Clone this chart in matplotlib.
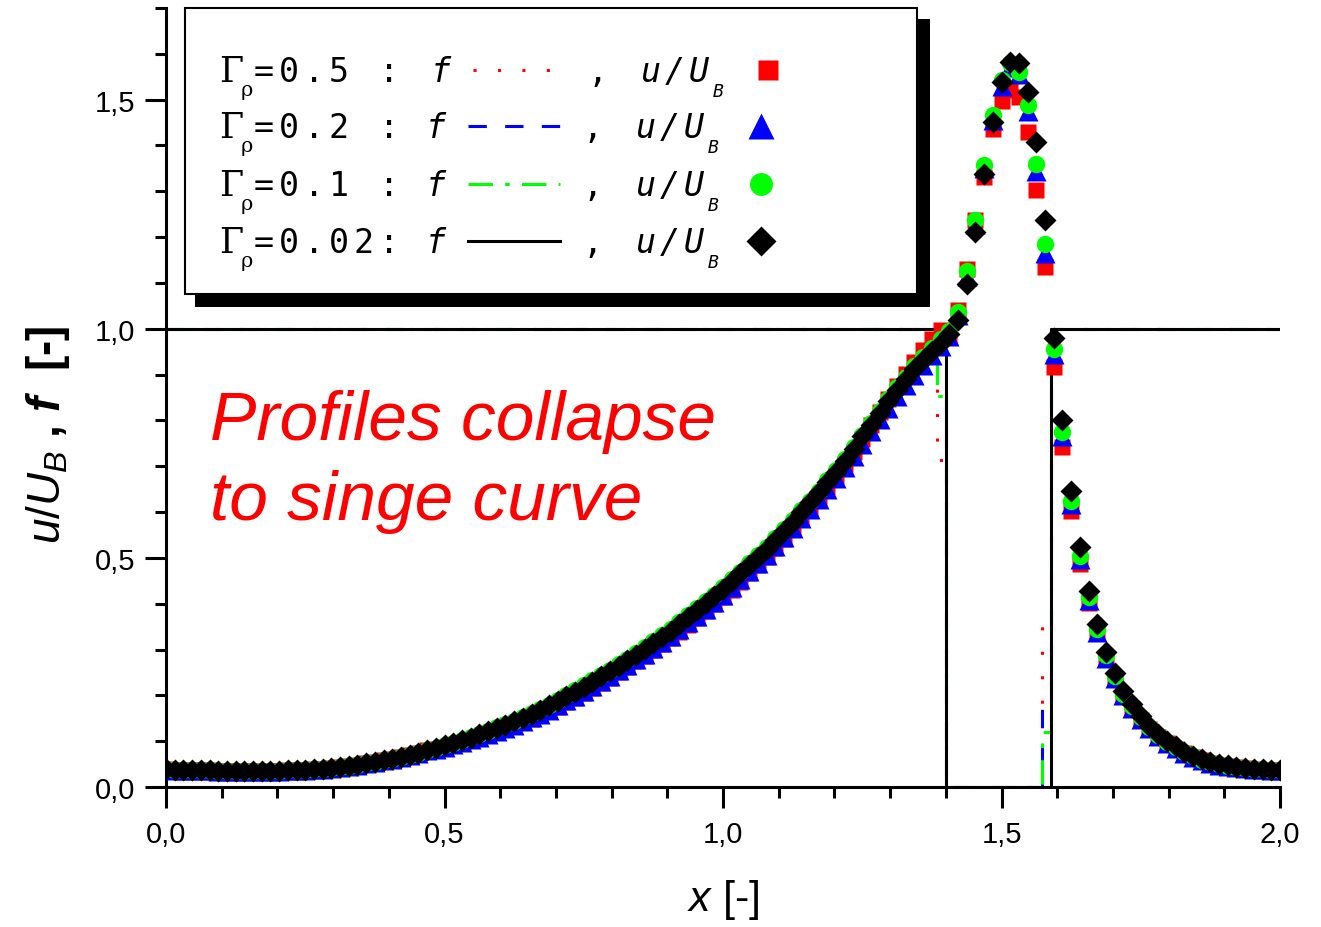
import matplotlib.pyplot as plt
import numpy as np
from matplotlib.lines import Line2D
from matplotlib.patches import Rectangle
from matplotlib.ticker import MultipleLocator, FuncFormatter

plt.rcParams['font.family'] = ['Liberation Sans', 'DejaVu Sans']
plt.rcParams['mathtext.fontset'] = 'custom'
plt.rcParams['mathtext.rm'] = 'Liberation Sans'
plt.rcParams['mathtext.it'] = 'Liberation Sans:italic'
plt.rcParams['mathtext.bf'] = 'Liberation Sans:bold'
plt.rcParams['mathtext.bfit'] = 'Liberation Sans:italic:bold'

# grid of 129 nodes on [0, 2]
x = np.linspace(0, 2, 129)

# u/U_B for the four density ratios
u_05 = [0.039, 0.038, 0.038, 0.037, 0.037, 0.037, 0.036, 0.036, 0.036, 0.036,
        0.036, 0.036, 0.036, 0.036, 0.037, 0.037, 0.038, 0.039, 0.040, 0.042,
        0.044, 0.046, 0.049, 0.052, 0.055, 0.059, 0.062, 0.066, 0.070, 0.075,
        0.080, 0.082, 0.087, 0.092, 0.097, 0.102, 0.108, 0.114, 0.120, 0.127,
        0.134, 0.141, 0.149, 0.157, 0.166, 0.175, 0.185, 0.195, 0.205, 0.216,
        0.227, 0.238, 0.250, 0.262, 0.274, 0.286, 0.299, 0.312, 0.325, 0.339,
        0.354, 0.369, 0.384, 0.399, 0.415, 0.431, 0.448, 0.466, 0.484, 0.503,
        0.522, 0.542, 0.563, 0.585, 0.607, 0.630, 0.654, 0.679, 0.705, 0.732,
        0.760, 0.789, 0.818, 0.847, 0.875, 0.902, 0.928, 0.953, 0.978, 0.998,
        0.985, 1.040, 1.131, 1.237, 1.331, 1.435, 1.498, 1.520, 1.506, 1.429,
        1.302, 1.135, 0.916, 0.742, 0.602, 0.487, 0.402, 0.335, 0.280, 0.236,
        0.199, 0.171, 0.147, 0.127, 0.110, 0.096, 0.084, 0.074, 0.065, 0.058,
        0.052, 0.048, 0.045, 0.043, 0.041, 0.039, 0.038, 0.038, 0.037]
u_02 = [0.039, 0.038, 0.038, 0.037, 0.037, 0.037, 0.036, 0.036, 0.036, 0.036,
        0.036, 0.036, 0.036, 0.036, 0.037, 0.037, 0.038, 0.039, 0.040, 0.042,
        0.044, 0.046, 0.049, 0.052, 0.055, 0.059, 0.062, 0.066, 0.070, 0.075,
        0.080, 0.083, 0.088, 0.093, 0.098, 0.104, 0.110, 0.116, 0.122, 0.129,
        0.136, 0.144, 0.152, 0.160, 0.169, 0.179, 0.189, 0.199, 0.209, 0.220,
        0.231, 0.243, 0.255, 0.267, 0.279, 0.291, 0.304, 0.317, 0.330, 0.344,
        0.359, 0.374, 0.389, 0.404, 0.420, 0.436, 0.453, 0.471, 0.489, 0.507,
        0.526, 0.545, 0.565, 0.586, 0.607, 0.629, 0.651, 0.674, 0.698, 0.723,
        0.749, 0.776, 0.802, 0.828, 0.853, 0.877, 0.900, 0.922, 0.943, 0.962,
        0.985, 1.030, 1.115, 1.228, 1.350, 1.455, 1.530, 1.572, 1.555, 1.476,
        1.345, 1.166, 0.945, 0.765, 0.617, 0.498, 0.408, 0.338, 0.282, 0.238,
        0.200, 0.172, 0.149, 0.128, 0.111, 0.097, 0.085, 0.075, 0.066, 0.059,
        0.053, 0.049, 0.046, 0.043, 0.041, 0.040, 0.039, 0.038, 0.038]
u_01 = [0.039, 0.038, 0.038, 0.037, 0.037, 0.037, 0.036, 0.036, 0.036, 0.036,
        0.036, 0.036, 0.036, 0.036, 0.037, 0.037, 0.038, 0.039, 0.040, 0.042,
        0.044, 0.046, 0.049, 0.052, 0.055, 0.059, 0.062, 0.066, 0.070, 0.075,
        0.080, 0.086, 0.092, 0.097, 0.103, 0.109, 0.116, 0.123, 0.130, 0.137,
        0.145, 0.153, 0.161, 0.170, 0.180, 0.190, 0.200, 0.211, 0.222, 0.233,
        0.245, 0.256, 0.268, 0.280, 0.292, 0.305, 0.318, 0.331, 0.345, 0.360,
        0.375, 0.390, 0.405, 0.420, 0.436, 0.453, 0.470, 0.488, 0.506, 0.524,
        0.543, 0.563, 0.583, 0.604, 0.625, 0.647, 0.669, 0.692, 0.716, 0.742,
        0.769, 0.795, 0.821, 0.847, 0.872, 0.895, 0.918, 0.939, 0.959, 0.977,
        0.995, 1.036, 1.125, 1.237, 1.357, 1.466, 1.542, 1.580, 1.560, 1.488,
        1.360, 1.186, 0.956, 0.774, 0.625, 0.505, 0.414, 0.344, 0.287, 0.242,
        0.204, 0.176, 0.152, 0.131, 0.113, 0.099, 0.087, 0.076, 0.067, 0.060,
        0.054, 0.050, 0.046, 0.044, 0.042, 0.040, 0.039, 0.038, 0.038]
u_002 = [0.039, 0.038, 0.038, 0.037, 0.037, 0.037, 0.036, 0.036, 0.036, 0.036,
         0.036, 0.036, 0.036, 0.036, 0.037, 0.037, 0.038, 0.039, 0.040, 0.042,
         0.044, 0.046, 0.049, 0.052, 0.055, 0.059, 0.062, 0.066, 0.070, 0.075,
         0.080, 0.085, 0.091, 0.096, 0.102, 0.108, 0.115, 0.122, 0.128, 0.135,
         0.143, 0.151, 0.159, 0.168, 0.178, 0.188, 0.198, 0.208, 0.219, 0.230,
         0.242, 0.253, 0.265, 0.277, 0.289, 0.302, 0.315, 0.328, 0.341, 0.356,
         0.371, 0.386, 0.401, 0.416, 0.432, 0.449, 0.466, 0.484, 0.502, 0.520,
         0.539, 0.559, 0.579, 0.600, 0.621, 0.643, 0.665, 0.688, 0.712, 0.738,
         0.765, 0.791, 0.817, 0.843, 0.867, 0.890, 0.912, 0.932, 0.951, 0.969,
         0.988, 1.020, 1.098, 1.212, 1.338, 1.451, 1.539, 1.582, 1.579, 1.517,
         1.408, 1.237, 0.980, 0.800, 0.647, 0.523, 0.428, 0.355, 0.295, 0.249,
         0.210, 0.181, 0.156, 0.134, 0.116, 0.101, 0.089, 0.077, 0.068, 0.061,
         0.055, 0.050, 0.047, 0.044, 0.042, 0.040, 0.039, 0.038, 0.038]

# step profiles of f
f_x = [0.0, 1.384, 1.384, 1.401, 1.401, 1.572, 1.572, 1.588, 1.588, 2.0]
f_05 = [1, 1, 0.714, 0.714, 0, 0, 0.363, 0.363, 1, 1]
f_02 = [1, 1, 0.870, 0.870, 0, 0, 0.177, 0.177, 1, 1]
f_01 = [1, 1, 0.854, 0.854, 0, 0, 0.120, 0.120, 1, 1]
f_002 = [1, 1, 0.952, 0.952, 0, 0, 0, 0, 1, 1]

gammas = ['=0.5 :', '=0.2 :', '=0.1 :', '=0.02:']
colors = ['#ff0000', '#0000ff', '#00ff00', '#000000']
styles = [(0, (1, 7)), (0, (6, 6)), (0, (8, 4, 1.5, 4)), '-']
markers = ['s', '^', 'o', 'D']

W, H = 1321, 928
fig = plt.figure(figsize=(W / 100, H / 100), dpi=100)
ax = fig.add_axes([166 / W, 1 - 788 / H, 1114 / W, 779 / H])

for fy, c, ls in zip([f_05, f_02, f_01, f_002], colors, styles):
    ax.plot(f_x, fy, color=c, lw=2.2, ls=ls, zorder=2)

msizes = [11.5, 14, 12.5, 11]
for k, (uy, c, m, ms) in enumerate(zip([u_05, u_02, u_01, u_002], colors, markers, msizes)):
    ax.plot(x, uy, m, color=c, ms=ms, mec='none', zorder=3 + k)

ax.set_xlim(0, 2)
ax.set_ylim(0, 1.7)
ax.spines['top'].set_visible(False)
ax.spines['right'].set_visible(False)
ax.spines['left'].set_linewidth(2.2)
ax.spines['bottom'].set_linewidth(2.2)
ax.xaxis.set_major_locator(MultipleLocator(0.5))
ax.xaxis.set_minor_locator(MultipleLocator(0.1))
ax.yaxis.set_major_locator(MultipleLocator(0.5))
ax.yaxis.set_minor_locator(MultipleLocator(0.1))
comma = FuncFormatter(lambda v, p: f'{v:.1f}'.replace('.', ','))
ax.xaxis.set_major_formatter(comma)
ax.yaxis.set_major_formatter(comma)
ax.tick_params(which='major', direction='out', length=15, width=2.2, labelsize=21)
ax.tick_params(which='minor', direction='out', length=8, width=2.2)
ax.tick_params(axis='x', pad=9)
ax.tick_params(axis='y', pad=7)

# plain-text "[-]" so the hyphen stays short; weight applies to non-math parts
ax.set_ylabel(r'$u/U_B$ , $\mathbfit{f}$  [-]', fontsize=33, fontweight='bold')
ax.yaxis.set_label_coords(-0.084, 0.453)
ax.set_xlabel(r'$x$ [-]', fontsize=31)
ax.xaxis.set_label_coords(0.5, -0.115)


def fx(px):
    return px / W


def fy(py):
    return 1 - py / H


fig.text(fx(210), fy(440), 'Profiles collapse', color='red', style='italic',
         fontsize=50, va='baseline')
fig.text(fx(210), fy(520), 'to singe curve', color='red', style='italic',
         fontsize=50, va='baseline')

# legend box with drop shadow
fig.add_artist(Rectangle((fx(195), fy(308)), (930 - 195) / W, (308 - 20) / H,
                         transform=fig.transFigure, facecolor='black',
                         edgecolor='none', zorder=1))
fig.add_artist(Rectangle((fx(185), fy(295)), (917 - 185) / W, (295 - 9) / H,
                         transform=fig.transFigure, facecolor='white',
                         edgecolor='black', lw=1.5, zorder=1))

mono = 'DejaVu Sans Mono'
leg_ms = [15, 19, 16.5, 15]
baselines = [82, 138, 196, 253]
shift = [5, 0, 0, 0]
for r in range(4):
    b = baselines[r]
    s = shift[r]
    fig.text(fx(231), fy(b), '\u0393', family='DejaVu Serif', fontsize=25,
             ha='center', va='baseline', zorder=3)
    fig.text(fx(247), fy(b + 14), '\u03c1', family='DejaVu Serif', fontsize=15,
             ha='center', va='baseline', zorder=3)
    for k, ch in enumerate(gammas[r]):
        fig.text(fx(264 + 25 * k), fy(b), ch, family=mono, fontsize=24,
                 ha='center', va='baseline', zorder=3)
    fig.text(fx(436 + s), fy(b), 'f', family=mono, style='italic', fontsize=24,
             ha='center', va='baseline', zorder=3)
    fig.add_artist(Line2D([fx(468 + s), fx(560 + s)], [fy(b - 11), fy(b - 11)],
                          transform=fig.transFigure, color=colors[r], lw=2.2,
                          ls=styles[r], zorder=2))
    fig.text(fx(593 + s), fy(b), ',', family=mono, fontsize=24,
             ha='center', va='baseline', zorder=3)
    for k, ch in enumerate('u/U'):
        fig.text(fx(646 + s + 24 * k), fy(b), ch, family=mono, style='italic',
                 fontsize=24, ha='center', va='baseline', zorder=3)
    fig.text(fx(713 + s), fy(b + 15), 'B', family=mono, style='italic',
             fontsize=13, ha='center', va='baseline', zorder=3)
    fig.add_artist(Line2D([fx(761 + s + (2 if r == 0 else 0))], [fy(b - 11)],
                          transform=fig.transFigure, marker=markers[r],
                          color=colors[r], ms=leg_ms[r], mec='none', ls='none',
                          zorder=2))

fig.savefig('out.png', dpi=100)
